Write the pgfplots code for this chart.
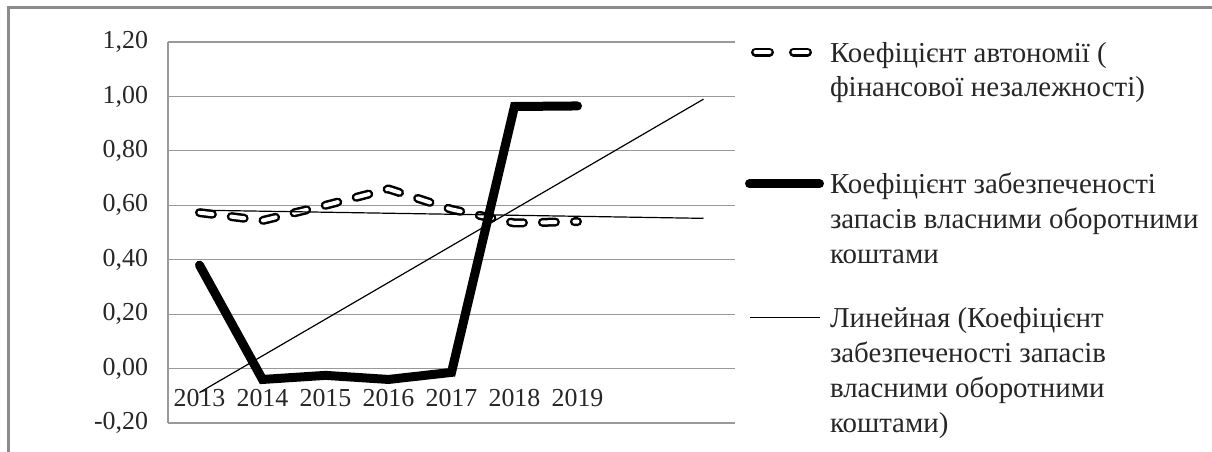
\documentclass[border=0pt]{standalone}
\usepackage{fontspec}
\setmainfont{Liberation Serif}
\usepackage{pgfplots}
\pgfplotsset{compat=1.18}
\newcommand{\legtxt}[2]{\parbox[t]{196bp}{\raggedright #1}\rule[-#2]{0pt}{#2}}
\begin{document}
\begin{tikzpicture}
\useasboundingbox (0,0) rectangle (606bp,226bp);
\draw[black!45, line width=1.5bp] (4bp,0) -- (4bp,222bp) -- (606bp,222bp);
\begin{axis}[
  at={(84bp,14.5bp)}, anchor=south west,
  scale only axis, width=283.5bp, height=190.5bp,
  xmin=0.5, xmax=9.5, ymin=-0.2, ymax=1.2,
  xtick={1,2,3,4,5,6,7},
  xticklabels={2013,2014,2015,2016,2017,2018,2019},
  ytick={-0.2,0,0.2,0.4,0.6,0.8,1.0,1.2},
  ymajorgrids,
  grid style={black!40, line width=0.6bp},
  axis x line*=bottom, axis y line*=left,
  axis line style={black!40, line width=0.6bp},
  major tick length=0pt,
  /pgf/number format/assume math mode=true,
  tick label style={font=\fontsize{13}{14}\selectfont, text=black!85},
  yticklabel style={xshift=-6.5bp, /pgf/number format/fixed, /pgf/number format/fixed zerofill, /pgf/number format/precision=2, /pgf/number format/use comma},
  xticklabel style={anchor=base, yshift=8.5bp},
  legend image code/.code={\draw[#1] (0bp,5bp) -- (35bp,5bp);},
  legend style={at={(axis description cs:1,1)}, anchor=north west, xshift=5bp, yshift=0bp,
    draw=none, fill=none, inner sep=0pt, outer sep=0pt, row sep=0pt, column sep=3bp,
    nodes={inner sep=0pt, text depth=},
    cells={anchor=base west, inner sep=0pt},
    font=\fontsize{14.5}{17.5}\selectfont, text=black!85},
]
\addplot[black, line width=4.5bp, line cap=round, line join=round,
  dash pattern=on 6.5bp off 9.5bp,
  postaction={draw, white, line width=2bp},
  legend image code/.code={\draw[##1, dash pattern=on 7bp off 12bp] (3bp,5bp) -- (30bp,5bp);}]
  coordinates {(1,0.573) (2,0.544) (3,0.600) (4,0.660) (5,0.585) (6,0.535) (7,0.540)};
\addlegendentry{\legtxt{Коефіцієнт автономії (\\фінансової незалежності)}{55.5bp}}
\addplot[black, line width=4.5bp, line cap=round, line join=miter]
  coordinates {(1,0.38) (2,-0.04) (3,-0.025) (4,-0.04) (5,-0.014) (6,0.963) (7,0.965)};
\addlegendentry{\legtxt{Коефіцієнт забезпеченості\\запасів власними оборотними\\коштами}{57bp}}
\addplot[black, line width=0.6bp] coordinates {(1,-0.088) (9,0.99)};
\addlegendentry{\legtxt{Линейная (Коефіцієнт\\забезпеченості запасів\\власними оборотними\\коштами)}{0bp}}
\addplot[black, line width=0.6bp, forget plot] coordinates {(1,0.582) (9,0.552)};
\end{axis}
\end{tikzpicture}
\end{document}
